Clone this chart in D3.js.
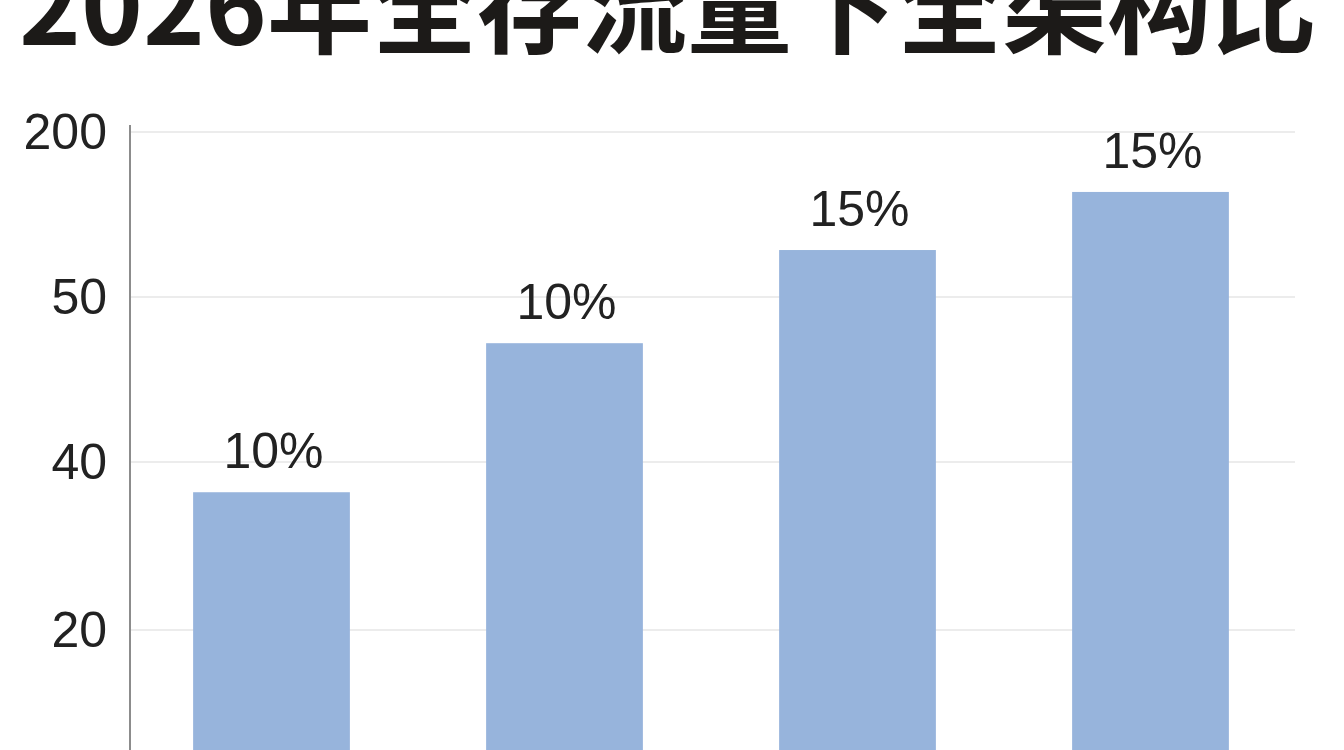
<!DOCTYPE html>
<html>
<head>
<meta charset="utf-8">
<script src="https://cdn.jsdelivr.net/npm/d3@7"></script>
<style>
  body { margin: 0; background: #fff; }
  svg { display: block; }
</style>
</head>
<body>
<script>
var w = 1344;
var h = 750;

// data
var title = "2026年全存流量下全渠构比";
var categories = ["1", "2", "3", "4"];
var values = [36.4, 47.2, 92.7, 145.5];
var labels = ["10%", "10%", "15%", "15%"];
var yTicks = [20, 40, 50, 200];

// the axis is uneven: ticks sit at equal distances
var y = d3.scaleLinear()
        .domain([0, 20, 40, 50, 200])
        .range([796, 630, 462, 297, 132]);

var x = d3.scaleBand()
        .domain(categories)
        .range([125, 1297])
        .paddingInner(0.465)
        .paddingOuter(0.2325);

var svg = d3.select("body")
        .append("svg")
        .attr("width", w)
        .attr("height", h);

svg.append("text")
        .attr("x", w / 2 - 4)
        .attr("y", 45)
        .attr("text-anchor", "middle")
        .style("font-family", "'Noto Sans CJK SC', sans-serif")
        .style("font-weight", 700)
        .style("font-size", "105px")
        .style("fill", "#1c1a18")
        .text(title);

//grid lines
svg.selectAll("line.grid")
        .data(yTicks)
        .enter()
        .append("line")
        .attr("class", "grid")
        .attr("x1", 131)
        .attr("x2", 1295)
        .attr("y1", function (d) { return y(d); })
        .attr("y2", function (d) { return y(d); })
        .style("stroke", "#e6e6e6")
        .style("stroke-width", 1.5);

var yAxis = svg.append("g")
        .attr("transform", "translate(130,0)")
        .call(d3.axisLeft(y).tickValues(yTicks).tickSize(0).tickPadding(23));

yAxis.select(".domain")
        .attr("d", "M0,125V" + h)
        .style("stroke", "#666")
        .style("stroke-width", 1.5);

yAxis.selectAll("text")
        .style("font-family", "'Liberation Sans', Arial, sans-serif")
        .style("font-size", "50px")
        .style("fill", "#222");

svg.selectAll("rect")
        .data(values)
        .enter()
        .append("rect")
        .attr("x", function (d, i) { return x(categories[i]); })
        .attr("y", function (d) { return y(d); })
        .attr("width", x.bandwidth())
        .attr("height", function (d) { return y(0) - y(d); })
        .style("fill", "#97b4dc");

svg.selectAll("text.value")
        .data(values)
        .enter()
        .append("text")
        .attr("class", "value")
        .attr("x", function (d, i) { return x(categories[i]) + x.bandwidth() / 2 + 2; })
        .attr("y", function (d) { return y(d) - 24; })
        .attr("text-anchor", "middle")
        .style("font-family", "'Liberation Sans', Arial, sans-serif")
        .style("font-size", "50px")
        .style("fill", "#222")
        .text(function (d, i) { return labels[i]; });
</script>
</body>
</html>
